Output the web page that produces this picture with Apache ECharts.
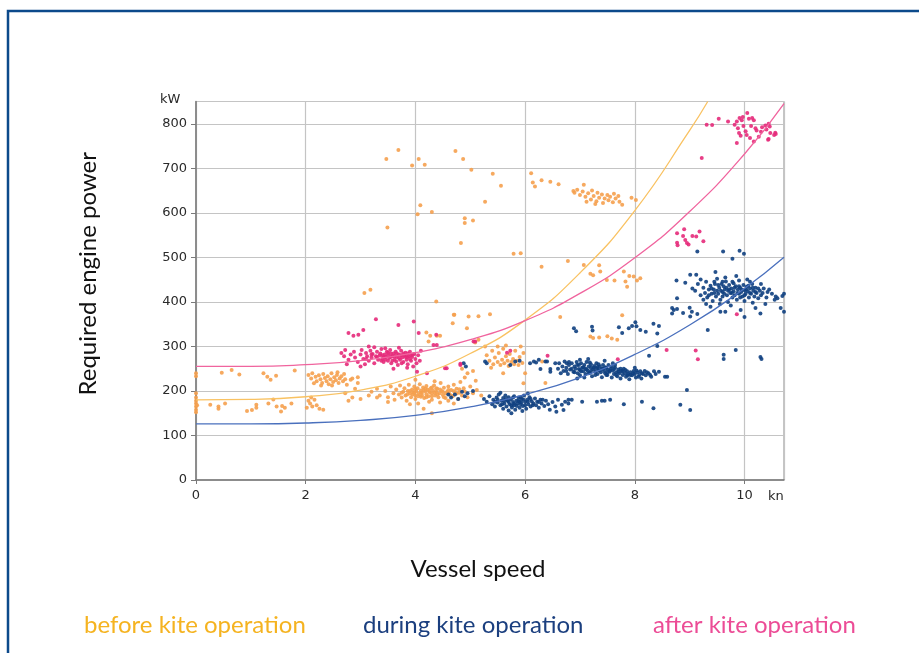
<!DOCTYPE html>
<html><head><meta charset="utf-8">
<script src="https://cdn.jsdelivr.net/npm/echarts@6/dist/echarts.min.js"></script>
<style>html,body{margin:0;padding:0;background:#fff}#c{width:919px;height:653px}</style>
</head><body><div id="c"></div>
<script>
// ---- tick labels ----
const xTicks = [0, 2, 4, 6, 8, 10];
const yTicks = [0, 100, 200, 300, 400, 500, 600, 700, 800];
const seriesNames = ['before kite operation', 'during kite operation', 'after kite operation'];

// ---- fitted curves ----
const beforeCurve = [[0,180],[1,181],[2,187],[3,202],[4,233],[5,284],[6,359],[7,465],[8,605],[9,785],[9.33,850]];
const duringCurve = [[0,126],[1,126],[2,128],[3,134],[4,145],[5,164],[6,192],[7,230],[8,282],[9,348],[10,430],[10.72,500]];
const afterCurve  = [[0,255],[1,255],[2,259],[3,268],[4,286],[5,315],[6,358],[7,419],[8,499],[9,603],[10,732],[10.72,845]];

// ---- measured points: before kite operation ----
const beforePts = [
[0,240],[0,233],[0,195],[0,185],[0,178],[0,172],[0,165],[0,158],[0,152],[0.02,168],[0.47,241],[0.65,247],[0.79,237],[0.26,169],[0.41,165],[0.41,160],[0.53,172],[0.93,155],[1.02,157],[1.1,169],[1.1,162],[1.23,240],[1.3,232],[1.46,234],[1.36,225],[1.32,172],[1.41,181],[1.47,165],[1.55,154],[1.57,166],[1.62,162],[1.8,246],[1.74,172],
[2.05,236],[2.1,228],[2.12,240],[2.18,232],[2.2,222],[2.24,235],[2.27,226],[2.3,218],[2.32,238],[2.35,229],[2.38,222],[2.4,233],[2.42,215],[2.45,226],[2.47,240],[2.5,220],[2.52,231],[2.55,224],[2.57,236],[2.6,218],[2.62,228],[2.65,233],[2.68,222],[2.7,238],[2.72,226],[2.75,214],[2.28,212],[2.15,217],[2.48,212],[2.58,242],[2.85,228],[2.95,218],[2.9,205],
[2.05,178],[2.08,172],[2.12,165],[2.16,180],[2.2,168],[2.25,160],[2.32,158],[2.1,185],[2.02,162],[2.78,178],[2.85,185],[3.0,182],[3.15,190],[3.3,185],[2.72,195],[2.82,225],[2.95,231],
[3.2,198],[3.3,205],[3.35,190],[3.45,200],[3.5,186],[3.55,210],[3.6,195],[3.62,180],[3.65,203],[3.7,192],[3.72,212],[3.75,185],[3.78,198],[3.8,206],[3.82,190],[3.84,178],[3.86,200],[3.88,214],[3.9,194],[3.92,186],[3.94,203],[3.96,197],[3.98,210],[4.0,190],[4.0,182],[4.02,199],[4.04,206],[4.06,193],[4.08,215],[4.1,187],[4.1,201],[4.12,196],[4.14,208],[4.16,184],[4.18,199],[4.2,192],[4.2,211],[4.22,203],[4.24,188],[4.26,197],[4.28,206],[4.3,180],[4.3,194],[4.32,201],[4.34,212],[4.36,190],[4.38,198],[4.4,205],[4.42,186],[4.44,195],[4.46,218],[4.48,200],[4.5,191],[4.52,207],[4.55,184],[4.58,198],[4.6,210],[4.62,193],[4.65,202],[4.68,188],[4.7,214],[4.72,197],[4.75,205],[4.78,182],[4.8,196],[4.82,220],[4.85,190],[4.88,206],[4.9,199],[4.95,186],[5.0,210],[5.05,195],[5.1,223],[5.12,202],[5.2,190],[3.9,170],[4.05,172],[4.25,176],[4.45,174],[4.15,160],[4.3,150],[3.5,175],[4.7,172],[4.9,230],[4.95,240],[5.05,245],[4.85,250],[4.6,178],[4.0,225],[4.35,222],
[3.9,200],[3.95,192],[4.0,204],[4.05,188],[4.1,196],[4.15,202],[4.2,186],[4.25,200],[4.3,208],[4.35,196],[4.4,192],[4.45,203],[4.5,198],[4.55,194],[4.6,202],[4.65,190],[4.7,200],[4.75,194],[4.8,204],[4.3,188],[4.12,190],[3.98,196],[4.18,205],[4.38,206],[4.52,186],[3.85,192],[3.75,196],[4.6,196],
[5.3,280],[5.35,268],[5.4,290],[5.42,260],[5.45,275],[5.5,265],[5.52,285],[5.55,258],[5.58,270],[5.6,295],[5.62,262],[5.65,278],[5.68,268],[5.7,256],[5.72,283],[5.75,265],[5.78,272],[5.8,260],[5.82,290],[5.85,268],[5.88,258],[5.9,276],[5.92,300],[5.95,263],[5.97,285],[5.5,300],[5.65,302],[5.38,252],[5.15,315],[5.09,309],[5.27,300],[6.31,266],[6.37,218],[5.97,217],[6.0,240],[5.6,240],
[3.07,420],[3.18,427],[4.38,401],[4.71,371],[4.68,352],[4.2,331],[4.39,324],[4.24,311],[4.27,324],[4.45,324],[4.94,341],[4.97,367],[5.15,368],[5.36,372],[4.7,371],[6.64,366],[7.77,370],[7.19,322],[7.24,319],[7.35,320],[7.5,323],[7.68,315],[7.58,318],
[5.79,508],[5.92,509],[6.3,479],[6.78,492],[7.07,483],[7.19,463],[7.24,460],[7.35,482],[7.37,468],[7.49,449],[7.63,448],[7.8,468],[7.9,458],[7.98,457],[8.1,453],[7.83,446],[7.86,434],[8.04,448],
[3.49,567],[3.47,721],[3.69,741],[3.94,706],[4.06,721],[4.17,708],[4.09,617],[4.04,597],[4.3,602],[4.73,739],[4.87,721],[4.9,588],[4.9,577],[4.83,532],[5.05,583],[5.02,697],[5.41,688],[5.56,661],[5.27,625],[6.11,689],[6.14,668],[6.18,659],[6.3,673],[6.46,670],[6.61,664],[6.88,649],[7.07,663],
[6.9,645],[6.95,652],[7.0,640],[7.05,648],[7.1,636],[7.15,644],[7.2,630],[7.22,650],[7.25,638],[7.3,626],[7.32,645],[7.35,634],[7.4,641],[7.42,622],[7.45,632],[7.5,640],[7.52,628],[7.55,636],[7.6,624],[7.62,643],[7.65,632],[7.7,638],[7.72,625],[7.77,618],[7.94,634],[8.02,629],[7.28,620],[7.12,625]
];

// ---- measured points: during kite operation ----
const duringPts = [
[4.65,185],[4.72,192],[4.78,182],[4.85,198],[4.9,188],[4.95,195],[4.88,262],[4.92,255],[5.05,200],[4.6,192],
[5.27,266],[5.3,262],[5.82,266],[5.9,268],[5.73,258],[6.09,262],[6.16,266],[6.2,264],[6.25,270],[6.37,266],[6.4,266],[6.46,243],[6.28,249],[6.46,249],[6.55,262],[6.76,262],
[5.25,182],[5.3,176],[5.35,188],[5.4,170],[5.42,180],[5.45,165],[5.48,185],[5.5,174],[5.52,192],[5.55,168],[5.57,178],[5.6,160],[5.6,184],[5.62,172],[5.64,190],[5.66,165],[5.68,178],[5.7,156],[5.7,186],[5.72,170],[5.74,181],[5.76,163],[5.78,175],[5.8,188],[5.8,168],[5.82,158],[5.84,178],[5.86,172],[5.88,185],[5.9,162],[5.9,176],[5.92,170],[5.94,182],[5.96,166],[5.98,190],[6.0,175],[6.02,160],[6.04,180],[6.06,170],[6.08,186],[6.1,165],[6.12,177],[6.15,172],[6.18,183],[6.2,168],[6.22,176],[6.25,162],[6.28,180],[6.3,172],[6.35,166],[6.38,178],[6.42,170],[6.45,158],[6.5,175],[6.55,165],[6.6,180],[5.55,196],[5.75,150],[5.95,155],[6.05,194],[6.67,169],[6.79,180],[6.73,176],[6.57,153],
[5.5,180],[5.58,170],[5.65,182],[5.7,175],[5.75,168],[5.78,185],[5.85,166],[5.88,178],[5.93,174],[5.97,180],[6.0,168],[6.05,176],[6.1,182],[6.14,168],[5.62,178],[5.8,172],[5.92,186],[6.25,175],[5.45,176],[6.32,180],
[6.6,250],[6.62,262],[6.65,240],[6.68,255],[6.7,245],[6.72,266],[6.75,252],[6.78,238],[6.8,258],[6.82,248],[6.85,262],[6.88,243],[6.9,255],[6.92,250],[6.94,265],[6.96,240],[6.98,258],[7.0,247],[7.0,235],[7.02,262],[7.04,252],[7.06,244],[7.08,258],[7.1,250],[7.1,238],[7.12,265],[7.14,246],[7.16,255],[7.18,241],[7.2,252],[7.2,260],[7.22,233],[7.24,248],[7.26,256],[7.28,243],[7.3,251],[7.3,262],[7.32,238],[7.34,247],[7.36,255],[7.38,242],[7.4,250],[7.4,231],[7.42,258],[7.44,245],[7.46,240],[7.48,252],[7.5,236],[7.5,248],[7.52,258],[7.54,243],[7.56,250],[7.58,230],[7.6,246],[7.62,238],[7.64,252],[7.66,242],[7.68,233],[7.7,248],[7.72,240],[7.74,228],[7.76,245],[7.78,236],[7.8,250],[7.82,240],[7.84,232],[7.86,244],[7.88,238],[7.9,226],[7.92,242],[7.95,235],[7.98,245],[8.0,238],[8.02,230],[8.05,242],[8.08,236],[8.1,244],[8.12,228],[8.15,238],[8.18,245],[8.2,235],[8.25,240],[8.3,232],[8.38,238],[8.55,232],[7.15,272],[7.45,268],[6.95,228],[7.6,262],[7.0,270],[8.0,252],
[6.85,250],[6.9,242],[6.95,258],[7.02,244],[7.06,253],[7.12,248],[7.16,240],[7.2,245],[7.25,252],[7.28,236],[7.32,254],[7.36,246],[7.42,250],[7.46,253],[7.5,242],[7.55,246],[7.58,255],[7.62,249],[7.66,236],[7.7,243],[7.74,250],[7.78,244],[7.83,247],[7.87,235],[7.92,236],[7.97,240],[8.03,246],[8.07,232],[8.13,240],[8.22,242],[8.28,236],[8.35,244],[6.75,245],[6.8,265],[7.08,230],[7.34,260],[7.64,258],[7.18,264],[6.98,249],[7.48,236],
[6.89,341],[6.93,334],[7.22,344],[7.23,336],[7.71,343],[7.77,330],[7.89,341],[7.95,346],[8.01,354],[8.03,345],[8.1,337],[8.2,333],[8.34,351],[8.44,346],[8.41,329],[8.41,301],[8.26,279],[8.44,243],[8.59,232],[8.95,202],[8.83,169],[9.01,157],[8.34,161],[8.13,176],[7.55,180],[7.4,178],[7.31,176],[7.04,176],[6.85,180],[6.79,172],[6.7,157],[7.8,170],[7.45,178],
[9.62,281],[9.62,272],[10.29,276],[10.31,272],[9.84,292],[9.33,337],
[8.68,386],[8.68,374],[8.77,384],[8.88,375],[9.04,378],[8.77,408],[8.71,382],[9.0,387],[9.01,367],[9.14,373],[9.38,389],[9.56,378],[9.65,378],[9.93,382],[10.0,366],[10.2,386],[10.6,408],[10.66,386],[10.72,378],[10.72,418],[9.14,513],[9.61,513],[9.91,515],[9.99,508],[9.78,497],[9.01,461],[9.12,461],[8.76,448],[8.92,443],[9.47,467],[10.57,412],[10.69,413],[10.29,374],
[9.1,425],[9.15,440],[9.2,415],[9.25,432],[9.28,420],[9.3,445],[9.32,410],[9.35,428],[9.38,436],[9.4,418],[9.42,402],[9.44,428],[9.46,440],[9.48,412],[9.5,425],[9.5,452],[9.52,418],[9.54,432],[9.56,405],[9.58,440],[9.6,422],[9.6,412],[9.62,435],[9.64,428],[9.66,446],[9.68,415],[9.7,425],[9.7,400],[9.72,438],[9.74,420],[9.76,430],[9.78,410],[9.8,442],[9.8,424],[9.82,415],[9.84,435],[9.86,405],[9.88,428],[9.9,418],[9.9,448],[9.92,432],[9.94,422],[9.96,412],[9.98,438],[10.0,426],[10.0,402],[10.02,418],[10.04,434],[10.06,424],[10.08,410],[10.1,430],[10.12,418],[10.14,440],[10.16,425],[10.18,412],[10.2,432],[10.22,420],[10.25,408],[10.28,425],[10.3,415],[10.35,430],[10.4,410],[10.42,422],[10.5,418],[9.65,455],[9.85,458],[10.05,450],[9.55,395],[9.75,392],[10.15,398],[9.3,395],[9.2,450],[9.05,430],[10.38,395],
[9.4,430],[9.45,420],[9.52,438],[9.57,425],[9.63,418],[9.67,432],[9.72,428],[9.77,420],[9.82,432],[9.87,420],[9.9,435],[9.95,428],[10.0,415],[10.03,428],[10.07,436],[10.1,420],[10.15,432],[10.2,422],[10.25,430],[10.33,420],[10.45,428],[10.55,405],[9.35,415],[9.25,405],[9.78,445],[9.92,410],[10.1,445],[9.6,445],[10.3,440],[9.45,445]
];

// ---- measured points: after kite operation ----
const afterPts = [
[2.65,285],[2.7,278],[2.72,292],[2.78,270],[2.82,282],[2.88,288],[2.9,275],[2.95,265],[3.0,282],[3.02,292],[3.05,272],[3.08,260],[3.1,285],[3.12,278],[3.15,268],[3.18,290],[3.2,275],[3.22,283],[3.25,262],[3.28,278],[3.3,288],[3.32,270],[3.35,280],[3.38,294],[3.4,272],[3.42,265],[3.44,282],[3.46,276],[3.48,288],[3.5,268],[3.5,280],[3.52,274],[3.54,292],[3.56,262],[3.58,278],[3.6,284],[3.62,270],[3.64,288],[3.66,276],[3.68,258],[3.7,282],[3.72,270],[3.74,290],[3.76,275],[3.78,265],[3.8,280],[3.82,286],[3.84,270],[3.86,260],[3.88,278],[3.9,288],[3.92,268],[3.94,276],[3.96,255],[3.98,283],[4.0,272],[4.02,262],[4.05,280],[4.08,268],[3.25,298],[3.6,250],[3.85,252],[3.0,255],[2.75,260],[3.45,296],[3.7,297],[4.1,290],[3.15,300],
[3.3,276],[3.36,284],[3.4,280],[3.45,270],[3.5,286],[3.55,276],[3.58,268],[3.62,278],[3.66,284],[3.7,274],[3.74,280],[3.78,284],[3.82,276],[3.86,284],[3.9,272],[3.95,282],[3.55,284],[3.65,266],[3.75,262],[3.85,276],[3.42,276],[3.38,268],[3.92,280],[3.2,282],[3.1,272],
[2.78,330],[2.87,324],[2.96,326],[3.05,337],[3.28,361],[3.69,348],[3.97,356],[4.06,330],[4.38,326],[4.33,303],[4.39,303],[4.54,251],[4.03,243],[4.21,240],[5.09,311],[4.82,261],[4.57,251],[5.67,286],[5.73,290],[5.06,311],[6.41,279],[7.69,271],[8.58,292],[9.11,291],[9.15,271],[9.86,372],[4.82,258],
[8.77,554],[8.77,533],[8.78,527],[8.88,548],[8.9,563],[8.92,539],[8.95,532],[8.98,529],[9.05,548],[9.12,547],[9.18,558],[9.25,536],
[9.22,723],
[9.31,798],[9.41,797],[9.53,811],[9.7,805],[9.82,798],[9.86,805],[9.91,813],[9.95,808],[9.97,815],[10.05,824],[10.08,811],[10.14,813],[10.17,808],[9.88,790],[9.9,779],[9.93,773],[10.02,783],[10.04,775],[10.1,768],[10.2,790],[10.22,785],[10.26,771],[10.17,760],[9.86,757],[10.32,792],[10.38,796],[10.4,787],[10.44,800],[10.46,794],[10.47,779],[10.54,775],[10.56,780],[10.44,766],[10.57,777],[10.43,764],[10.3,782],[10.12,795],[9.98,795]
];

const ptColors = ['#f5a04e', '#0e3f80', '#e62a7a'];
const lineColors = ['#f9c262', '#4a70bd', '#f0649e'];
const legendColors = ['#f5b320', '#1b3f7f', '#ec4c96'];
const legendLeft = [74, 353, 643];

const chart = echarts.init(document.getElementById('c'), null, {renderer: 'canvas'});
const tickFont = {fontFamily: 'DejaVu Sans', fontSize: 13, color: '#2a2a2a'};
const titleFont = 'Lato';

const curves = [beforeCurve, duringCurve, afterCurve];
const pts = [beforePts, duringPts, afterPts];
const series = [];
for (let i = 0; i < 3; i++) {
  series.push({
    name: seriesNames[i], type: 'scatter', data: pts[i], symbolSize: 4,
    itemStyle: {color: ptColors[i], opacity: 0.9}, z: 2, silent: true
  });
}
for (let i = 0; i < 3; i++) {
  series.push({
    name: seriesNames[i], type: 'line', data: curves[i], smooth: true, showSymbol: false,
    lineStyle: {color: lineColors[i], width: 1.3}, itemStyle: {color: lineColors[i]}, z: 3, silent: true, clip: true
  });
}

const legends = seriesNames.map((n, i) => ({
  data: [n], left: legendLeft[i], top: 608, icon: 'none', itemWidth: 0, itemGap: 0, selectedMode: false,
  textStyle: {color: legendColors[i], fontFamily: titleFont, fontSize: 24}
}));

chart.setOption({
  animation: false,
  backgroundColor: '#fff',
  grid: {left: 196, right: 135, top: 101.5, bottom: 173, show: true, borderColor: '#8c8c8c', borderWidth: 1},
  legend: legends,
  xAxis: {
    type: 'value', min: 0, max: 10.72, interval: 2,
    name: 'Vessel speed', nameLocation: 'middle', nameGap: 77,
    nameTextStyle: {fontFamily: titleFont, fontSize: 24, color: '#111', padding: [0, 24, 0, 0]},
    axisLine: {show: true, onZero: false, lineStyle: {color: '#7a7a7a', width: 1.5}},
    axisTick: {show: true, length: 4, lineStyle: {color: '#7a7a7a'}},
    axisLabel: Object.assign({margin: 9, showMaxLabel: false, formatter: v => xTicks.includes(v) ? String(v) : ''}, tickFont),
    splitLine: {show: true, lineStyle: {color: '#c4c4c4', width: 1.2}}
  },
  yAxis: {
    type: 'value', min: 0, max: 850, interval: 100,
    name: 'Required engine power', nameLocation: 'middle', nameGap: 96,
    nameTextStyle: {fontFamily: titleFont, fontSize: 24, color: '#111', padding: [0, 0, 0, 34]},
    axisLine: {show: true, onZero: false, lineStyle: {color: '#7a7a7a', width: 1.5}},
    axisTick: {show: true, length: 5, lineStyle: {color: '#7a7a7a'}},
    axisLabel: Object.assign({margin: 9, showMaxLabel: false, formatter: v => yTicks.includes(v) ? String(v) : ''}, tickFont),
    splitLine: {show: true, lineStyle: {color: '#c4c4c4', width: 1.2}}
  },
  graphic: [
    {type: 'rect', shape: {x: 8, y: 11, width: 1400, height: 1400}, style: {fill: 'none', stroke: '#0c4a8b', lineWidth: 2.5}, z: 10, silent: true},
    {type: 'text', left: 160, top: 93, style: {text: 'kW', font: '13px "DejaVu Sans"', fill: '#2a2a2a'}, silent: true},
    {type: 'text', left: 768, top: 490, style: {text: 'kn', font: '13px "DejaVu Sans"', fill: '#2a2a2a'}, silent: true}
  ],
  series: series
});
</script>
</body></html>
